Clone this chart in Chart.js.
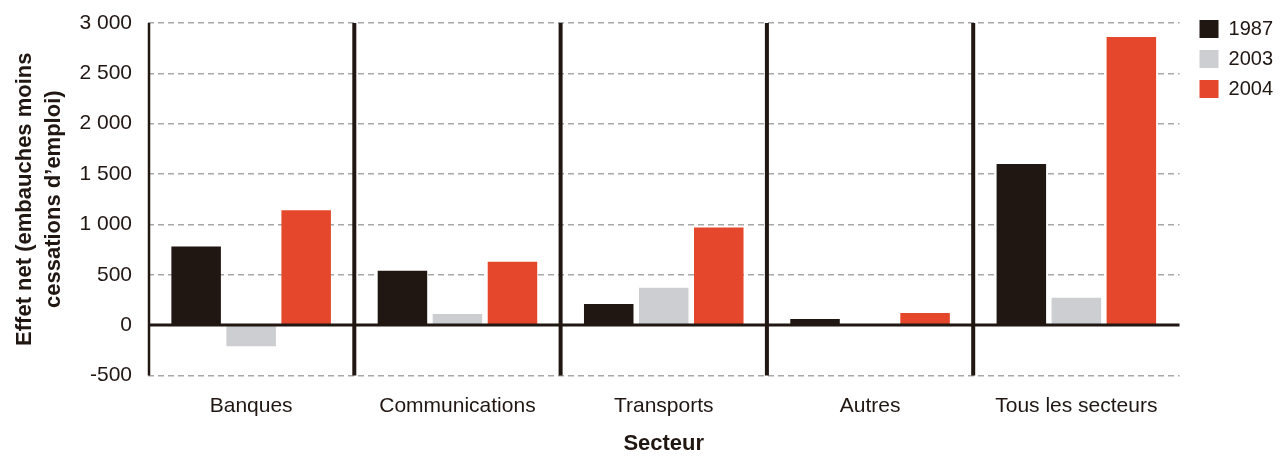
<!DOCTYPE html>
<html>
<head>
<meta charset="utf-8">
<script src="https://cdn.jsdelivr.net/npm/chart.js@4/dist/chart.umd.min.js"></script>
<style>
  html, body { margin: 0; padding: 0; background: #fff; }
  #wrap { width: 1283px; height: 457px; }
</style>
</head>
<body>
<div id="wrap"><canvas id="chart" width="1283" height="457"></canvas></div>
<script>
const sectors = ["Banques", "Communications", "Transports", "Autres", "Tous les secteurs"];
const years = ["1987", "2003", "2004"];
const values1987 = [780, 540, 210, 60, 1600];
const values2003 = [-210, 110, 370, 10, 270];
const values2004 = [1140, 630, 970, 120, 2860];
const yTicks = [-500, 0, 500, 1000, 1500, 2000, 2500, 3000];

const colors = ["#201612", "#cdced2", "#e4472b"];
const dark = "#201612";
const fontFamily = "'Liberation Sans', Arial, sans-serif";

function fmtThousands(v) {
    const s = String(Math.abs(v)).replace(/\B(?=(\d{3})+(?!\d))/g, " ");
    return v < 0 ? "-" + s : s;
}

// separators between sectors, left axis and the zero line, drawn over the bars
const frameLines = {
    id: "frameLines",
    afterDatasetsDraw(chart) {
        const { ctx, chartArea, scales } = chart;
        const x = scales.x, y = scales.y;
        const top = y.getPixelForValue(3000);
        const bottom = y.getPixelForValue(-500);
        ctx.save();
        ctx.strokeStyle = dark;
        // left axis
        ctx.lineWidth = 2.5;
        ctx.beginPath();
        ctx.moveTo(chartArea.left + 1, top);
        ctx.lineTo(chartArea.left + 1, bottom);
        ctx.stroke();
        // separators
        ctx.lineWidth = 4;
        for (let i = 1; i < sectors.length; i++) {
            const px = (x.getPixelForValue(i - 1) + x.getPixelForValue(i)) / 2;
            ctx.beginPath();
            ctx.moveTo(px, top);
            ctx.lineTo(px, bottom);
            ctx.stroke();
        }
        // zero line
        const z = y.getPixelForValue(0);
        ctx.lineWidth = 3;
        ctx.beginPath();
        ctx.moveTo(chartArea.left, z);
        ctx.lineTo(chartArea.right, z);
        ctx.stroke();
        ctx.restore();
    },
};

new Chart(document.getElementById("chart"), {
    type: "bar",
    data: {
        labels: sectors,
        datasets: [
            { label: years[0], data: values1987, backgroundColor: colors[0] },
            { label: years[1], data: values2003, backgroundColor: colors[1] },
            { label: years[2], data: values2004, backgroundColor: colors[2] },
        ],
    },
    options: {
        responsive: false,
        animation: false,
        layout: { padding: { top: 9, right: 0, left: 10, bottom: 0 } },
        datasets: { bar: { categoryPercentage: 0.8, barPercentage: 0.9 } },
        plugins: {
            tooltip: { enabled: false },
            legend: {
                position: "right",
                align: "start",
                labels: {
                    color: dark,
                    font: { family: fontFamily, size: 20 },
                    boxWidth: 19,
                    boxHeight: 18,
                    padding: 10,
                },
            },
        },
        scales: {
            x: {
                grid: { display: false },
                border: { display: false },
                ticks: { color: dark, font: { family: fontFamily, size: 21 }, padding: 10 },
                title: {
                    display: true,
                    text: "Secteur",
                    color: dark,
                    font: { family: fontFamily, size: 22, weight: "bold" },
                    padding: { top: 2, bottom: 0 },
                },
            },
            y: {
                min: -500,
                max: 3000,
                afterBuildTicks: (axis) => { axis.ticks = yTicks.map((v) => ({ value: v })); },
                afterFit: (scale) => {
                    scale.width = 138;
                    scale.paddingTop = 23;
                    scale.paddingBottom = 14;
                },
                grid: {
                    color: (ctx) => (ctx.tick && ctx.tick.value === 0 ? "rgba(0,0,0,0)" : "#a8a8a8"),
                    lineWidth: 1.5,
                    drawTicks: false,
                },
                border: { display: false, dash: [6, 4] },
                ticks: {
                    color: dark,
                    font: { family: fontFamily, size: 21 },
                    padding: 16,
                    callback: (v) => fmtThousands(v),
                },
                title: {
                    display: true,
                    text: ["Effet net (embauches moins", "cessations d’emploi)"],
                    color: dark,
                    font: { family: fontFamily, size: 22, weight: "bold", lineHeight: 1.32 },
                    padding: { top: 0, bottom: 11 },
                },
            },
            // empty strip between the plot and the legend
            gap: {
                axis: "y",
                position: "right",
                grid: { display: false },
                border: { display: false },
                ticks: { display: false },
                afterFit: (scale) => { scale.width = 10; },
            },
        },
    },
    plugins: [frameLines],
});
</script>
</body>
</html>
